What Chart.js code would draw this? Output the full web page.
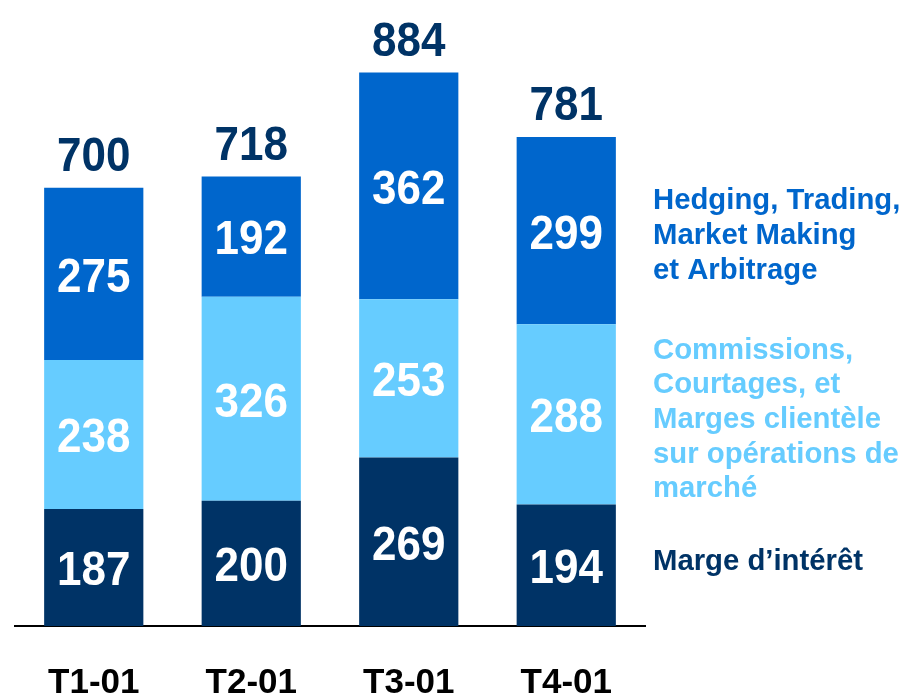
<!DOCTYPE html>
<html>
<head>
<meta charset="utf-8">
<script src="https://cdn.jsdelivr.net/npm/chart.js@4.4.1/dist/chart.umd.min.js"></script>
<style>
  html, body { margin: 0; padding: 0; background: #fff; }
  #wrap { width: 904px; height: 695px; }
</style>
</head>
<body>
<div id="wrap"><canvas id="chart"></canvas></div>
<script>
const categories = ["T1-01", "T2-01", "T3-01", "T4-01"];
const margeInteret = [187, 200, 269, 194];
const commissions = [238, 326, 253, 288];
const hedging = [275, 192, 362, 299];
const totals = [700, 718, 884, 781];

const seriesNames = [
    ["Marge d\u2019int\u00e9r\u00eat"],
    ["Commissions,", "Courtages, et", "Marges client\u00e8le", "sur op\u00e9rations de", "march\u00e9"],
    ["Hedging, Trading,", "Market Making", "et Arbitrage"]
];
const colors = ["#003366", "#66CCFF", "#0066CC"];
const legendY = [561, 419, 235]; // centre of each legend block

const font = "'Liberation Sans', Arial, sans-serif";

// big numbers are a bit taller than wide in the original
function bigText(ctx, text, x, yCenter) {
    const size = 44, stretch = 1.1;
    const cap = 0.716 * size * stretch;
    ctx.save();
    ctx.translate(x, yCenter + cap / 2);
    ctx.scale(1, stretch);
    ctx.font = "bold " + size + "px " + font;
    ctx.textAlign = "center";
    ctx.textBaseline = "alphabetic";
    ctx.fillText(text, 0, 0);
    ctx.restore();
}

// numbers inside the segments, totals above, legend on the right
const labelsPlugin = {
    id: "labels",
    afterDatasetsDraw(chart) {
        const ctx = chart.ctx;
        ctx.save();
        chart.data.datasets.forEach((ds, i) => {
            chart.getDatasetMeta(i).data.forEach((bar, j) => {
                ctx.fillStyle = "#ffffff";
                bigText(ctx, ds.data[j], bar.x, (bar.y + bar.base) / 2 + 0.5);
            });
        });
        const top = chart.getDatasetMeta(chart.data.datasets.length - 1).data;
        ctx.fillStyle = "#003366";
        top.forEach((bar, j) => bigText(ctx, totals[j], bar.x, bar.y - 34));

        ctx.textAlign = "left";
        ctx.textBaseline = "middle";
        ctx.font = "bold 29.3px " + font;
        const lh = 34.7;
        seriesNames.forEach((lines, i) => {
            ctx.fillStyle = colors[i];
            const y0 = legendY[i] - (lines.length - 1) * lh / 2;
            lines.forEach((t, k) => ctx.fillText(t, 653, y0 + k * lh + 1));
        });
        ctx.restore();
    }
};

new Chart(document.getElementById("chart"), {
    type: "bar",
    data: {
        labels: categories,
        datasets: [
            { label: seriesNames[0].join(" "), data: margeInteret, backgroundColor: colors[0] },
            { label: seriesNames[1].join(" "), data: commissions, backgroundColor: colors[1] },
            { label: seriesNames[2].join(" "), data: hedging, backgroundColor: colors[2] }
        ]
    },
    options: {
        responsive: true,
        maintainAspectRatio: false,
        animation: false,
        layout: { padding: { left: 15, right: 259, top: 0, bottom: 0 } },
        datasets: { bar: { categoryPercentage: 1, barPercentage: 0.63, borderWidth: 0 } },
        plugins: { legend: { display: false }, tooltip: { enabled: false } },
        scales: {
            x: {
                stacked: true,
                grid: { display: false, drawTicks: false },
                border: { display: true, color: "#000000", width: 2 },
                ticks: { color: "#000000", font: { family: font, size: 35, weight: "bold" }, padding: 36 },
                afterFit(scale) { scale.height = 69; }
            },
            y: {
                stacked: true,
                display: false,
                min: 0,
                max: 1000
            }
        }
    },
    plugins: [labelsPlugin]
});
</script>
</body>
</html>
